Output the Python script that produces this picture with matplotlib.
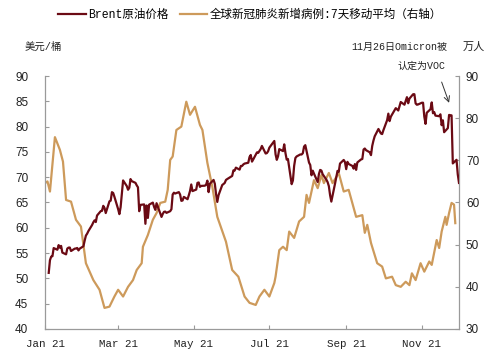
import matplotlib
matplotlib.use('Agg')
import matplotlib.pyplot as plt
import matplotlib.dates as mdates
import pandas as pd

mono_cjk = ['Liberation Mono', 'Noto Sans CJK SC', 'DejaVu Sans']
plt.rcParams['font.family'] = mono_cjk
plt.rcParams['axes.unicode_minus'] = False

# Brent 原油价格 (美元/桶)
brent_dates = ['01-04', '01-05', '01-06', '01-07', '01-08', '01-11', '01-12', '01-13', '01-14', '01-15',
               '01-18', '01-19', '01-20', '01-21', '01-22', '01-25', '01-26', '01-27', '01-28', '01-29',
               '02-01', '02-02', '02-03', '02-04', '02-05', '02-08', '02-09', '02-10', '02-11', '02-12',
               '02-15', '02-16', '02-17', '02-18', '02-19', '02-22', '02-23', '02-24', '02-25', '02-26',
               '03-01', '03-02', '03-03', '03-04', '03-05', '03-08', '03-09', '03-10', '03-11', '03-12',
               '03-15', '03-16', '03-17', '03-18', '03-19', '03-22', '03-23', '03-24', '03-25', '03-26',
               '03-29', '03-30', '03-31', '04-01', '04-05', '04-06', '04-07', '04-08', '04-09', '04-12',
               '04-13', '04-14', '04-15', '04-16', '04-19', '04-20', '04-21', '04-22', '04-23', '04-26',
               '04-27', '04-28', '04-29', '04-30', '05-03', '05-04', '05-05', '05-06', '05-07', '05-10',
               '05-11', '05-12', '05-13', '05-14', '05-17', '05-18', '05-19', '05-20', '05-21', '05-24',
               '05-25', '05-26', '05-27', '05-28', '06-01', '06-02', '06-03', '06-04', '06-07', '06-08',
               '06-09', '06-10', '06-11', '06-14', '06-15', '06-16', '06-17', '06-18', '06-21', '06-22',
               '06-23', '06-24', '06-25', '06-28', '06-29', '06-30', '07-01', '07-02', '07-05', '07-06',
               '07-07', '07-08', '07-09', '07-12', '07-13', '07-14', '07-15', '07-16', '07-19', '07-20',
               '07-21', '07-22', '07-23', '07-26', '07-27', '07-28', '07-29', '07-30', '08-02', '08-03',
               '08-04', '08-05', '08-06', '08-09', '08-10', '08-11', '08-12', '08-13', '08-16', '08-17',
               '08-18', '08-19', '08-20', '08-23', '08-24', '08-25', '08-26', '08-27', '08-30', '08-31',
               '09-01', '09-02', '09-03', '09-06', '09-07', '09-08', '09-09', '09-10', '09-13', '09-14',
               '09-15', '09-16', '09-17', '09-20', '09-21', '09-22', '09-23', '09-24', '09-27', '09-28',
               '09-29', '09-30', '10-01', '10-04', '10-05', '10-06', '10-07', '10-08', '10-11', '10-12',
               '10-13', '10-14', '10-15', '10-18', '10-19', '10-20', '10-21', '10-22', '10-25', '10-26',
               '10-27', '10-28', '10-29', '11-01', '11-02', '11-03', '11-04', '11-05', '11-08', '11-09',
               '11-10', '11-11', '11-12', '11-15', '11-16', '11-17', '11-18', '11-19', '11-22', '11-23',
               '11-24', '11-25', '11-26', '11-29', '11-30', '12-01']
brent_vals = [51.09, 53.60, 54.30, 54.38, 55.99, 55.66, 56.58, 56.06, 56.42, 55.10,
              54.75, 55.90, 56.08, 56.10, 55.41, 55.88, 55.91, 56.01, 55.53, 55.88,
              56.35, 57.46, 58.46, 58.84, 59.34, 60.56, 61.09, 61.47, 61.14, 62.43,
              63.30, 63.35, 64.34, 63.93, 62.91, 65.24, 65.37, 67.04, 66.88, 66.13,
              63.69, 62.70, 64.07, 66.74, 69.36, 68.24, 67.52, 67.90, 69.63, 69.22,
              68.88, 68.39, 68.00, 63.28, 64.53, 64.62, 60.79, 64.41, 61.95, 64.57,
              64.98, 64.14, 63.54, 64.86, 62.15, 62.74, 63.16, 63.20, 62.95, 63.28,
              63.67, 66.58, 66.94, 66.77, 67.05, 66.57, 65.32, 65.40, 66.11, 65.65,
              66.42, 67.27, 68.56, 67.25, 67.56, 68.88, 68.96, 68.09, 68.28, 68.32,
              68.55, 69.32, 67.05, 68.71, 69.46, 68.71, 66.66, 65.11, 66.44, 68.46,
              68.65, 68.87, 69.46, 69.63, 70.25, 71.35, 71.31, 71.89, 71.49, 72.22,
              72.22, 72.52, 72.69, 72.86, 73.99, 74.39, 73.08, 73.51, 74.90, 74.81,
              75.19, 75.56, 76.18, 74.68, 74.76, 75.13, 75.84, 76.17, 77.16, 74.53,
              73.43, 74.12, 75.55, 75.16, 76.49, 74.76, 73.47, 73.59, 68.62, 69.35,
              72.23, 73.79, 74.10, 74.50, 74.48, 74.74, 76.05, 76.33, 72.89, 72.41,
              70.38, 71.29, 70.70, 69.04, 70.63, 71.44, 71.31, 70.59, 69.51, 69.03,
              68.23, 66.45, 65.18, 68.75, 70.05, 71.25, 71.07, 72.70, 73.41, 72.99,
              71.59, 73.03, 72.61, 72.22, 71.69, 72.60, 71.45, 72.92, 73.51, 73.60,
              75.46, 75.67, 75.34, 74.92, 74.36, 76.19, 77.25, 78.09, 79.53, 79.09,
              78.64, 78.52, 79.28, 81.26, 82.56, 81.08, 81.95, 82.39, 83.65, 83.42,
              83.18, 84.00, 84.86, 84.33, 85.08, 85.82, 84.61, 85.53, 86.40, 86.40,
              84.58, 84.32, 84.38, 84.71, 84.72, 81.99, 80.54, 82.74, 83.43, 84.78,
              82.64, 82.87, 82.17, 82.05, 82.43, 80.28, 81.24, 78.89, 79.70, 82.31,
              82.25, 82.22, 72.72, 73.44, 70.57, 68.87]

# 全球新冠肺炎新增病例:7天移动平均 (万人), x = days since 2021-01-01
case_day = [0, 2, 4, 8, 12, 14.5, 17, 21, 25, 29, 33, 39, 44, 48, 52, 56, 59, 63, 67, 71,
            74, 78, 79, 83, 87, 90, 93, 97, 99, 101, 103, 106, 110, 114, 117, 121, 125, 127,
            131, 135, 139, 146, 151, 156, 161, 165, 170, 173, 177, 181, 185, 186, 189, 192,
            195, 197, 201, 205, 209, 211, 213, 217, 220, 223, 225, 229, 232, 237, 241, 245,
            251, 256, 258, 260, 263, 268, 272, 275, 280, 283, 287, 291, 294, 296, 299, 303,
            306, 310, 312, 316, 318, 320, 323, 324, 326, 328, 330, 331]
case_vals = [64.6, 65.0, 62.6, 75.5, 72.5, 69.7, 60.6, 60.2, 55.9, 54.3, 45.6, 41.6, 39.3, 35.0,
             35.3, 37.7, 39.3, 37.7, 40.0, 41.6, 44.0, 45.6, 49.5, 52.3, 55.9, 57.5, 59.9, 60.2,
             63.0, 70.1, 70.9, 77.2, 78.0, 83.9, 80.8, 82.7, 78.4, 77.2, 69.4, 63.7, 56.6, 50.7,
             44.0, 42.4, 37.7, 36.2, 35.7, 37.7, 39.3, 37.7, 40.9, 42.4, 48.7, 49.5, 48.7, 53.1,
             51.6, 55.5, 56.6, 61.8, 59.9, 65.3, 63.4, 66.5, 64.6, 67.0, 64.6, 67.0, 62.6, 63.0,
             56.6, 57.0, 52.8, 54.7, 50.4, 45.6, 44.8, 42.0, 42.4, 40.4, 40.0, 41.2, 40.4, 43.2,
             41.6, 45.6, 43.6, 46.0, 45.2, 51.1, 49.2, 53.1, 56.6, 54.7, 57.5, 59.9, 59.5, 55.1]

brent_x = pd.to_datetime(['2021-' + d for d in brent_dates])
case_x = pd.Timestamp('2021-01-01') + pd.to_timedelta(case_day, unit='D')

red = '#6B0A14'
tan = '#CD9A5B'
grey = '#9A9A9A'
txt = '#222222'

fig = plt.figure(figsize=(5, 3.59), dpi=100)
ax = fig.add_axes([0.09, 0.0836, 0.828, 0.7047])
ax2 = ax.twinx()

l1, = ax.plot(brent_x, brent_vals, color=red, lw=1.6, label='Brent原油价格', zorder=3)
l2, = ax2.plot(case_x, case_vals, color=tan, lw=1.6, label='全球新冠肺炎新增病例:7天移动平均（右轴）')
ax.set_zorder(ax2.get_zorder() + 1)
ax.patch.set_visible(False)

ax.set_xlim(pd.Timestamp('2021-01-01'), pd.Timestamp('2021-12-01'))
ax.set_ylim(40, 90)
ax2.set_ylim(30, 90)
ax.set_yticks(range(40, 91, 5))
ax2.set_yticks(range(30, 91, 10))

ax.xaxis.set_major_locator(mdates.MonthLocator(bymonth=[1, 3, 5, 7, 9, 11]))
ax.xaxis.set_major_formatter(mdates.DateFormatter('%b %y'))

for a in (ax, ax2):
    a.spines['top'].set_visible(False)
    for s in ('left', 'right', 'bottom'):
        a.spines[s].set_color(grey)
        a.spines[s].set_linewidth(0.9)
    a.tick_params(direction='in', length=3, color=grey, labelcolor=txt)
ax.spines['right'].set_visible(False)
ax2.spines['left'].set_visible(False)
ax2.spines['bottom'].set_visible(False)

ax.tick_params(axis='y', pad=12)
ax2.tick_params(axis='y', pad=5)
ax.tick_params(axis='x', pad=7)
for lab in ax.get_yticklabels() + ax2.get_yticklabels():
    lab.set_fontfamily('Liberation Sans')
    lab.set_fontsize(8.5)
for lab in ax.get_xticklabels():
    lab.set_fontfamily('Liberation Mono')
    lab.set_fontsize(7.8)

fig.legend(handles=[l1, l2], loc='upper center', bbox_to_anchor=(0.5, 1.005), ncol=2,
           frameon=False, prop={'family': mono_cjk, 'size': 8.3},
           handlelength=2.4, columnspacing=1.0, handletextpad=0.2)

fig.text(0.05, 0.869, '美元/桶', fontsize=7.5, ha='left', va='center', color=txt)
fig.text(0.926, 0.869, '万人', fontsize=8, ha='left', va='center', color=txt)

fig.text(0.894, 0.869, '11月26日Omicron被', fontsize=7.2, ha='right', va='center', color=txt)
fig.text(0.892, 0.816, '认定为VOC', fontsize=7.2, ha='right', va='center', color=txt)
ax.annotate('', xy=(pd.Timestamp('2021-11-23'), 84.7), xytext=(pd.Timestamp('2021-11-17'), 88.8),
            arrowprops=dict(arrowstyle='->', color='#333333', lw=0.7, shrinkA=0, shrinkB=0),
            annotation_clip=False)

fig.savefig('out.png', dpi=100)
